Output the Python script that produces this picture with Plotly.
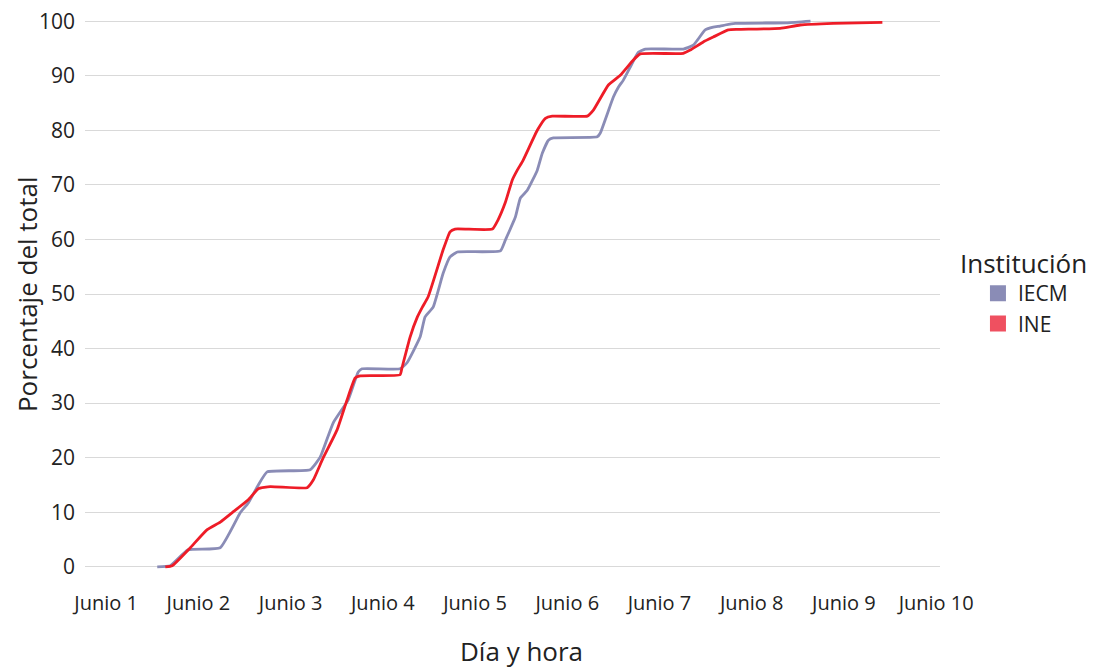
import pandas as pd
import plotly.graph_objects as go

# Hours elapsed since Junio 1, 00:00
iecm_hours = [13.3, 16.7, 21.3, 29.7, 34.9, 37.0, 39.6, 41.9, 53.1, 55.7, 59.1, 63.0,
              65.6, 66.6, 76.5, 78.3, 81.7, 83.0, 85.1, 87.7, 89.5, 91.4, 102.6, 103.9,
              106.5, 107.8, 109.6, 112.2, 113.5, 115.1, 116.4, 127.8, 128.6, 132.0, 133.3,
              134.6, 136.4, 138.5, 140.3, 150.2, 152.8, 155.9, 158.0, 159.8, 161.1, 163.7,
              177.3, 183.3]
iecm_pct = [0.0, 0.2, 3.1, 3.5, 9.9, 11.7, 15.0, 17.4, 17.8, 20.1, 26.4, 30.6,
            35.7, 36.3, 36.3, 37.4, 42.1, 45.8, 47.6, 53.8, 56.8, 57.7, 57.9, 59.9,
            64.1, 67.6, 69.0, 72.7, 75.8, 78.2, 78.6, 78.8, 79.5, 86.1, 87.9,
            89.2, 91.6, 94.3, 94.9, 94.9, 95.6, 98.4, 98.9, 99.1, 99.3, 99.6,
            99.7, 100.0]

ine_hours = [15.4, 17.2, 21.9, 26.3, 29.7, 33.1, 37.0, 39.6, 42.7, 52.3, 53.9, 56.5,
             60.1, 62.7, 64.8, 66.1, 76.5, 77.0, 79.1, 81.0, 82.3, 83.8, 87.7, 89.5,
             90.8, 100.5, 102.0, 103.9, 105.7, 107.0, 108.5, 112.2, 114.3, 116.1, 125.2,
             126.8, 130.7, 133.8, 137.2, 139.0, 150.2, 152.0, 155.4, 158.0, 161.9, 164.3,
             175.4, 180.6, 189.2, 202.0]
ine_pct = [0.0, 0.2, 3.5, 6.8, 8.2, 10.1, 12.3, 14.3, 14.7, 14.5, 15.9, 20.0,
           25.1, 30.6, 34.6, 35.0, 35.2, 36.5, 42.1, 45.8, 47.6, 49.5, 58.1, 61.4,
           61.9, 61.9, 63.6, 66.8, 70.9, 72.7, 74.5, 80.0, 82.2, 82.6, 82.6,
           83.7, 88.3, 90.1, 92.9, 94.0, 94.1, 94.7, 96.2, 97.1, 98.4, 98.5,
           98.7, 99.3, 99.6, 99.8]

tick_days = [1, 2, 3, 4, 5, 6, 7, 8, 9, 10]
tick_text = ["Junio %d" % d for d in tick_days]
y_ticks = [0, 10, 20, 30, 40, 50, 60, 70, 80, 90, 100]

base = pd.Timestamp("2024-06-01 00:00")
to_dt = lambda hrs: [base + pd.Timedelta(hours=h) for h in hrs]

c_iecm = "#8a8cb6"
c_ine = "#ee1c27"
c_ine_leg = "#ef5060"
font = "Open Sans"
txt = "#222222"

fig = go.Figure()
fig.add_trace(go.Scatter(x=to_dt(iecm_hours), y=iecm_pct, mode="lines",
                         line=dict(color=c_iecm, width=2.8, shape="spline", smoothing=0.4),
                         name="IECM", showlegend=False))
fig.add_trace(go.Scatter(x=to_dt(ine_hours), y=ine_pct, mode="lines",
                         line=dict(color=c_ine, width=2.8, shape="spline", smoothing=0.4),
                         name="INE", showlegend=False))
# legend swatches
fig.add_trace(go.Scatter(x=[None], y=[None], mode="markers", name="IECM",
                         marker=dict(symbol="square", size=16, color=c_iecm)))
fig.add_trace(go.Scatter(x=[None], y=[None], mode="markers", name="INE",
                         marker=dict(symbol="square", size=16, color=c_ine_leg)))

tickvals = [base + pd.Timedelta(days=d - 1) for d in tick_days]
fig.update_layout(
    width=1095, height=669,
    margin=dict(l=85, r=155, t=13, b=94, autoexpand=False),
    plot_bgcolor="white", paper_bgcolor="white",
    font=dict(family=font, color=txt),
    xaxis=dict(
        range=[base - pd.Timedelta(hours=5.5), base + pd.Timedelta(hours=217)],
        tickvals=tickvals, ticktext=tick_text, showgrid=False, zeroline=False,
        tickfont=dict(size=20, color=txt), ticklabelstandoff=14, automargin=False,
    ),
    yaxis=dict(
        range=[-1.5, 101.5], tickvals=y_ticks, showgrid=True, gridcolor="#d9d9d9",
        gridwidth=1, zeroline=False, tickfont=dict(size=21, color=txt),
        ticklabelstandoff=9, automargin=False,
    ),
    legend=dict(
        title=dict(text="Institución", font=dict(size=26, color=txt), side="top"),
        font=dict(size=21, color=txt), x=1.021, xanchor="left", y=0.504, yanchor="middle",
        indentation=20, itemwidth=30, tracegroupgap=0,
    ),
    annotations=[
        dict(text="Día y hora", xref="paper", yref="paper", x=0.511, y=-0.1345,
             xanchor="center", yanchor="middle", showarrow=False,
             font=dict(size=26, color=txt)),
        dict(text="Porcentaje del total", xref="paper", yref="paper", x=-0.0678, y=0.5,
             xanchor="center", yanchor="middle", showarrow=False, textangle=-90,
             font=dict(size=26, color=txt)),
    ],
)

fig.write_html("out.html", config={"displayModeBar": False},
               post_script="document.body.style.margin='0';document.body.style.padding='0';")
